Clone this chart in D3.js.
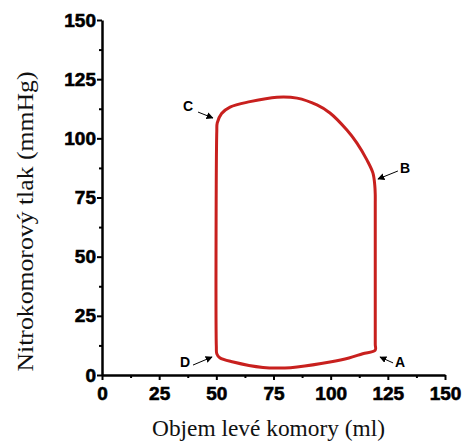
<!DOCTYPE html>
<html>
<head>
<meta charset="utf-8">
<script src="https://cdn.jsdelivr.net/npm/d3@7"></script>
<style>
  html, body { margin: 0; padding: 0; background: #ffffff; }
  #chart svg { display: block; }
</style>
</head>
<body>
<div id="chart"></div>
<script>
// tlakově-objemová smyčka levé komory
const volume   = [119.5, 119.5, 119.5, 119.5, 119.3, 118.5, 115.9, 111.5, 107.1, 99.7, 94.0, 85.3, 76.5, 64.7, 56.0, 52.3, 50.4, 50.2, 50.0, 50.2, 51.5, 57.4, 70.4, 80.0, 85.3, 99.7, 108.0, 114.0];
const pressure = [10.5, 13.0, 72.0, 76.0, 80.0, 85.3, 90.8, 98.0, 103.5, 110.7, 114.1, 117.0, 117.4, 115.5, 113.2, 110.5, 106.5, 103.0, 12.0, 9.0, 7.3, 5.5, 3.2, 3.0, 3.4, 5.5, 7.2, 9.0];

const xTicks = [0, 25, 50, 75, 100, 125, 150];
const yTicks = [0, 25, 50, 75, 100, 125, 150];
const minorTicks = [12.5, 37.5, 62.5, 87.5, 112.5, 137.5];

// popisky bodů A-D: pozice textu a šipky (v jednotkách grafu)
const pointNames = ["A", "B", "C", "D"];
const labelX = [130.3, 132.5, 37.6, 36.3];
const labelY = [5.5, 87.5, 113.6, 5.5];
const arrowFromX = [127.3, 129.4, 42.0, 39.8];
const arrowFromY = [5.1, 86.2, 111.1, 4.2];
const arrowToX = [121.6, 120.7, 48.5, 48.1];
const arrowToY = [7.6, 82.8, 108.6, 7.6];

const width = 464;
const height = 441;
const margin = { top: 20, right: 19, bottom: 66, left: 102 };

const svg = d3.select("#chart")
    .append("svg")
    .attr("width", width)
    .attr("height", height);

const x = d3.scaleLinear()
    .domain([0, 150])
    .range([margin.left, width - margin.right]);

const y = d3.scaleLinear()
    .domain([0, 150])
    .range([height - margin.bottom, margin.top]);

const tickFont = "'Liberation Sans', Arial, sans-serif";

// osa x
svg.append("g")
    .attr("transform", `translate(0,${y(0)})`)
    .call(d3.axisBottom(x).tickValues(minorTicks).tickSize(3).tickFormat(""))
    .call(g => g.select(".domain").remove())
    .call(g => g.selectAll(".tick line").attr("stroke", "#000").attr("stroke-width", 2));

svg.append("g")
    .attr("transform", `translate(0,${y(0)})`)
    .call(d3.axisBottom(x).tickValues(xTicks).tickSize(5).tickSizeOuter(0).tickPadding(7))
    .call(g => g.select(".domain").attr("stroke", "#000").attr("stroke-width", 2.5))
    .call(g => g.selectAll(".tick line").attr("stroke", "#000").attr("stroke-width", 2))
    .call(g => g.selectAll(".tick text")
        .attr("fill", "#000")
        .attr("stroke", "#000")
        .attr("stroke-width", 0.6)
        .attr("font-family", tickFont)
        .attr("font-weight", "bold")
        .attr("font-size", "19px"));

// osa y
svg.append("g")
    .attr("transform", `translate(${x(0)},0)`)
    .call(d3.axisLeft(y).tickValues(minorTicks).tickSize(3).tickFormat(""))
    .call(g => g.select(".domain").remove())
    .call(g => g.selectAll(".tick line").attr("stroke", "#000").attr("stroke-width", 2));

svg.append("g")
    .attr("transform", `translate(${x(0)},0)`)
    .call(d3.axisLeft(y).tickValues(yTicks).tickSize(5).tickSizeOuter(0).tickPadding(1))
    .call(g => g.select(".domain").attr("stroke", "#000").attr("stroke-width", 2.5))
    .call(g => g.selectAll(".tick line").attr("stroke", "#000").attr("stroke-width", 2))
    .call(g => g.selectAll(".tick text")
        .attr("fill", "#000")
        .attr("stroke", "#000")
        .attr("stroke-width", 0.6)
        .attr("font-family", tickFont)
        .attr("font-weight", "bold")
        .attr("font-size", "19px"));

// popisky os
svg.append("text")
    .attr("x", 268.5)
    .attr("y", 436)
    .attr("text-anchor", "middle")
    .attr("font-family", "'Liberation Serif', 'Times New Roman', serif")
    .attr("font-size", "23px")
    .attr("fill", "#111")
    .attr("textLength", 233)
    .attr("lengthAdjust", "spacingAndGlyphs")
    .text("Objem levé komory (ml)");

svg.append("text")
    .attr("transform", "translate(33,221.5) rotate(-90)")
    .attr("text-anchor", "middle")
    .attr("font-family", "'Liberation Serif', 'Times New Roman', serif")
    .attr("font-size", "23px")
    .attr("fill", "#111")
    .attr("textLength", 300)
    .attr("lengthAdjust", "spacingAndGlyphs")
    .text("Nitrokomorový tlak (mmHg)");

// smyčka
const loop = d3.line()
    .x(d => x(d[0]))
    .y(d => y(d[1]))
    .curve(d3.curveCatmullRomClosed.alpha(0.5));

svg.append("path")
    .datum(d3.zip(volume, pressure))
    .attr("fill", "none")
    .attr("stroke", "#c8201e")
    .attr("stroke-width", 3)
    .attr("stroke-linejoin", "round")
    .attr("d", loop);

// šipky
svg.append("defs")
    .append("marker")
    .attr("id", "arrow")
    .attr("viewBox", "0 0 10 10")
    .attr("refX", 9)
    .attr("refY", 5)
    .attr("markerWidth", 7)
    .attr("markerHeight", 7)
    .attr("markerUnits", "userSpaceOnUse")
    .attr("orient", "auto")
    .append("path")
    .attr("d", "M0,0 L10,5 L0,10 Z")
    .attr("fill", "#000");

pointNames.forEach((name, i) => {
    svg.append("line")
        .attr("x1", x(arrowFromX[i]))
        .attr("y1", y(arrowFromY[i]))
        .attr("x2", x(arrowToX[i]))
        .attr("y2", y(arrowToY[i]))
        .attr("stroke", "#000")
        .attr("stroke-width", 1)
        .attr("marker-end", "url(#arrow)");

    svg.append("text")
        .attr("x", x(labelX[i]))
        .attr("y", y(labelY[i]))
        .attr("dy", "0.36em")
        .attr("text-anchor", "middle")
        .attr("font-family", tickFont)
        .attr("font-weight", "bold")
        .attr("font-size", "14px")
        .attr("fill", "#000")
        .text(name);
});
</script>
</body>
</html>
